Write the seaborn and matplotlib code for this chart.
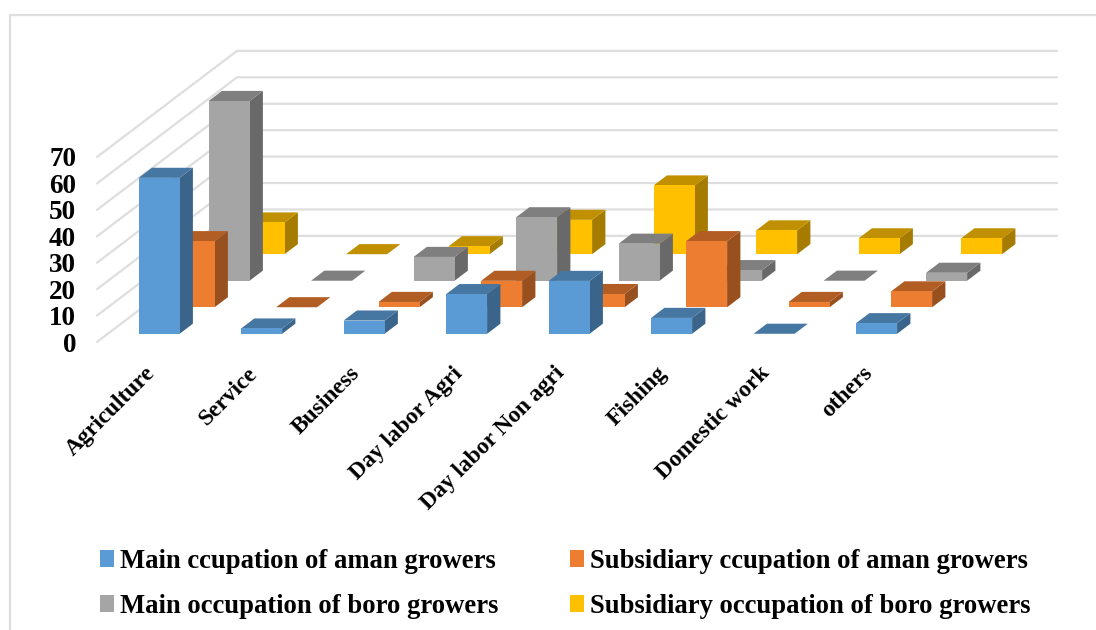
import numpy as np
import pandas as pd
import matplotlib
matplotlib.use("Agg")
import matplotlib.pyplot as plt
from matplotlib.patches import Patch
from matplotlib.transforms import ScaledTranslation
import seaborn as sns

categories = ["Agriculture", "Service", "Business", "Day labor Agri",
              "Day labor Non agri", "Fishing", "Domestic work", "others"]
series_names = ["Main ccupation of aman growers", "Subsidiary ccupation of aman growers",
                "Main occupation of boro growers", "Subsidiary occupation of boro growers"]
main_aman = [59, 2, 5, 15, 20, 6, 0, 4]
subsidiary_aman = [25, 0, 2, 10, 5, 25, 2, 6]
main_boro = [68, 0, 9, 24, 14, 4, 0, 3]
subsidiary_boro = [12, 0, 3, 13, 26, 9, 6, 6]
value_ticks = [0, 10, 20, 30, 40, 50, 60, 70]

front_colors = ["#5B9BD5", "#ED7D31", "#A5A5A5", "#FFC000"]
top_colors = ["#4676A2", "#B25D24", "#7F7F7F", "#C09000"]
side_colors = ["#3A6489", "#99501F", "#696969", "#A57C00"]
grid_color = "#DEDEDE"

W, H = 1096, 630
sns.set_theme(style="white")
plt.rcParams["font.family"] = ["Liberation Serif"]
plt.rcParams["font.weight"] = "bold"

fig = plt.figure(figsize=(W / 100, H / 100), dpi=100)
# The axes rectangle is the front face of the chart box; depth is sheared up and to the right.
left, right, bottom, top = 97, 917, 342, 157
ax = fig.add_axes([left / W, 1 - bottom / H, (right - left) / W, (bottom - top) / H])

# One unit of depth (one series slot) in category and value units.
DX = 35 / 102.5
DY = 26.5 / 2.64
BAR_W = 0.4
BAR_D = 0.38
N_SLOTS = 4

frame = pd.DataFrame({"category": categories, "s0": main_aman, "s1": subsidiary_aman,
                      "s2": main_boro, "s3": subsidiary_boro})

# Back wall and side wall gridlines
for v in value_ticks:
    ax.plot([0, N_SLOTS * DX, len(categories) + N_SLOTS * DX],
            [v, v + N_SLOTS * DY, v + N_SLOTS * DY],
            color=grid_color, lw=1.6, clip_on=False, zorder=1)

# Series run back to front so nearer bars cover the farther ones.
for s in reversed(range(4)):
    depth = s + 0.5 - BAR_D / 2
    values = frame[f"s{s}"].to_numpy(float)
    centers = np.arange(len(categories)) + 0.5
    z = 10 + (3 - s) * 3
    for c, v in zip(centers, values):
        x0 = c - BAR_W / 2 + depth * DX
        x1 = x0 + BAR_W
        y0 = depth * DY
        ox, oy = BAR_D * DX, BAR_D * DY
        ax.fill([x0, x1, x1 + ox, x0 + ox], [y0 + v, y0 + v, y0 + v + oy, y0 + v + oy],
                color=top_colors[s], lw=0, clip_on=False, zorder=z + 1)
        if v > 0:
            ax.fill([x1, x1 + ox, x1 + ox, x1], [y0, y0 + oy, y0 + v + oy, y0 + v],
                    color=side_colors[s], lw=0, clip_on=False, zorder=z)
    sns.barplot(x=centers + depth * DX, y=values, native_scale=True, width=BAR_W, gap=0,
                color=front_colors[s], saturation=1, bottom=depth * DY, ax=ax,
                linewidth=0, clip_on=False, zorder=z + 2)

ax.set_xlim(0, len(categories))
ax.set_ylim(0, 70)
ax.set_xticks(np.arange(len(categories)) + 0.5)
ax.set_xticklabels(categories, rotation=45, ha="right", va="top", rotation_mode="anchor",
                   fontsize=16.9, fontweight="bold", color="black")
ax.set_yticks(value_ticks)
ax.set_yticklabels([str(v) for v in value_ticks], fontsize=19.5, fontweight="bold", color="black")
ax.tick_params(axis="y", length=0, pad=15)
ax.tick_params(axis="x", length=0, pad=15)
nudge = ScaledTranslation(-4 / 100, 0, fig.dpi_scale_trans)
for label in ax.get_xticklabels():
    label.set_transform(label.get_transform() + nudge)
ax.set_xlabel("")
ax.set_ylabel("")
ax.patch.set_visible(False)
sns.despine(ax=ax, left=True, bottom=True)

# Chart frame, open at the bottom and right edges of the canvas
frame_ax = fig.add_axes([0, 0, 1, 1], zorder=-1)
frame_ax.set_xlim(0, W)
frame_ax.set_ylim(H, 0)
frame_ax.axis("off")
frame_ax.plot([10, 10, W], [H, 15, 15], color=grid_color, lw=1.6)

handles = [Patch(facecolor=c, edgecolor="none") for c in front_colors]
# matplotlib fills legend columns first, so the names go in column order.
order = [0, 2, 1, 3]
fig.legend([handles[i] for i in order], [series_names[i] for i in order], ncol=2,
           loc="upper left", bbox_to_anchor=(100 / W, 1 - 549 / H), frameon=False,
           prop={"family": "Liberation Serif", "weight": "bold", "size": 19.2},
           labelcolor="black", borderpad=0, borderaxespad=0,
           handlelength=0.525, handleheight=0.6, handletextpad=0.23,
           columnspacing=2.68, labelspacing=0.76)

fig.savefig("out.png", dpi=100)
